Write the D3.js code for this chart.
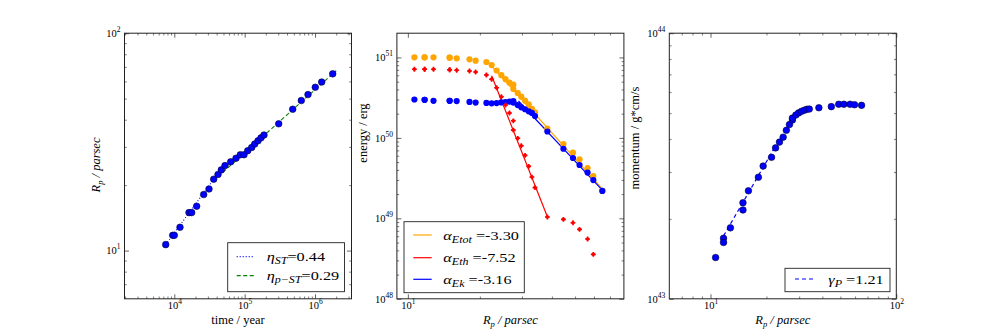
<!DOCTYPE html>
<html>
<head>
<meta charset="utf-8">
<title>Shell evolution</title>
<script src="https://cdn.jsdelivr.net/npm/d3@7"></script>
<style>
    body { margin: 0; background: #fff; }
    svg text { font-family: "Liberation Serif", "DejaVu Serif", serif; fill: #000; }
</style>
</head>
<body>
<svg id="fig" width="996" height="332"></svg>

<script>
// shell radius R_p in parsec, one value per snapshot (shared by all panels)
var rp = [10.65, 11.75, 11.75, 12.8, 14.95, 14.95, 16.0, 18.1, 19.2, 21.3,
          22.4, 23.5, 24.6, 25.6, 26.6, 27.6, 27.6, 28.8, 29.8, 30.9,
          32.0, 33.0, 34.0, 38.3, 44.7, 49.0, 52.2, 56.4, 59.6, 65.0];

// panel 1: time in years
var time = [7550, 9490, 10000, 12050, 16170, 17660, 20800, 26150, 31130, 36300,
            41800, 46560, 52560, 63370, 75370, 86760, 97900, 110500, 125900, 138900,
            154800, 170700, 188300, 304800, 482000, 638600, 794700, 1009000, 1244000, 1785000];

// panel 2: energies in units of 1e51 erg
var eTot = [1.003, 1.003, 1.003, 1.003, 0.992, 0.992, 0.975, 0.947, 0.910, 0.877,
            0.803, 0.688, 0.601, 0.536, 0.485, 0.458, 0.405, 0.361, 0.325, 0.290,
            0.261, 0.230, 0.208, 0.130, 0.0839, 0.0654, 0.0542, 0.0422, 0.0336, 0.0219];
var eTh  = [0.712, 0.712, 0.712, 0.712, 0.703, 0.703, 0.692, 0.678, 0.659, 0.605,
            0.535, 0.420, 0.325, 0.256, 0.204, 0.163, 0.125, 0.0988, 0.0799, 0.0607,
            0.0443, 0.0326, 0.0241, 0.0104, 0.00972, 0.00882, 0.00730, 0.00553, 0.00357, null];
var eKin = [0.300, 0.297, 0.297, 0.289, 0.289, 0.289, 0.287, 0.280, 0.275, 0.272,
            0.269, 0.271, 0.276, 0.279, 0.283, 0.286, 0.275, 0.256, 0.240, 0.227,
            0.214, 0.204, 0.187, 0.120, 0.0733, 0.0562, 0.0460, 0.0371, 0.0299, 0.0219];

// panel 3: radial momentum in units of 1e43 g cm/s
var mom = [1.43, 1.69, 1.63, 1.85, 2.30, 2.16, 2.55, 2.87, 3.16, 3.41,
           3.70, 3.89, 4.06, 4.31, 4.53, 4.71, 4.79, 4.92, 5.01, 5.08,
           5.13, 5.17, 5.18, 5.24, 5.29, 5.40, 5.40, 5.40, 5.38, 5.35];

// power law fits: y = y0 * (x / x0)^slope, drawn between from and to
var fitsTime = [
    {sym: "η", sub: "ST",   txt: "=0.44", slope: 0.44, x0: 7550,    y0: 10.65, from: 7550,  to: 45000},
    {sym: "η", sub: "p−ST", txt: "=0.29", slope: 0.29, x0: 1785000, y0: 65.0,  from: 42000, to: 2000000}
];
var fitsEnergy = [
    {sym: "α", sub: "Etot", txt: " =-3.30", slope: -3.30, x0: 65.3, y0: 0.02294, from: 22.0, to: 65.3},
    {sym: "α", sub: "Eth",  txt: " =-7.52", slope: -7.52, x0: 38.3, y0: 0.01047, from: 22.4, to: 38.3},
    {sym: "α", sub: "Ek",   txt: " =-3.16", slope: -3.16, x0: 47.6, y0: 0.060,   from: 29.0, to: 65.0}
];
var fitsMom = [
    {sym: "γ", sub: "P", txt: " =1.21", slope: 1.21, x0: 11.97, y0: 1.764, from: 11.75, to: 22.2}
];

var plotTop = 33.2, plotBot = 298.8, pw = 227;
var lefts = [124.5, 396.9, 669.3];
var ink = "#222";

var svg = d3.select("#fig");

function majors(dom) {
    var out = [];
    for (var e = Math.ceil(Math.log10(dom[0]) - 1e-9); e <= Math.floor(Math.log10(dom[1]) + 1e-9); e++) out.push(Math.pow(10, e));
    return out;
}
function minors(dom) {
    var out = [];
    for (var e = Math.floor(Math.log10(dom[0])); e <= Math.floor(Math.log10(dom[1])); e++) {
        for (var k = 2; k <= 9; k++) {
            var v = k * Math.pow(10, e);
            if (v > dom[0] * 1.001 && v < dom[1] * 0.999) out.push(v);
        }
    }
    return out;
}

// exponent labels like 10^4
function powLabel(sel, scale) {
    sel.each(function(d) {
        var t = d3.select(this).text("");
        t.append("tspan").text("10");
        t.append("tspan").attr("dy", -5).attr("font-size", 7.5).text(Math.round(Math.log10(d * scale)));
    });
}

function frame(g, x, y, yScaleMult) {
    var xd = x.domain(), yd = y.domain();
    var sides = [
        {ax: d3.axisBottom(x), t: "translate(0," + plotBot + ")", maj: majors(xd), min: minors(xd), lab: true},
        {ax: d3.axisTop(x), t: "translate(0," + plotTop + ")", maj: majors(xd), min: minors(xd), lab: false},
        {ax: d3.axisLeft(y), t: "translate(" + x.range()[0] + ",0)", maj: majors(yd), min: minors(yd), lab: true},
        {ax: d3.axisRight(y), t: "translate(" + x.range()[1] + ",0)", maj: majors(yd), min: minors(yd), lab: false}
    ];
    sides.forEach(function(s, i) {
        g.append("g").attr("transform", s.t)
            .call(s.ax.tickValues(s.min).tickSize(-2.3).tickFormat(""))
            .call(function(a) { a.select(".domain").remove(); a.selectAll("line").attr("stroke", ink).attr("stroke-width", 0.6); });
        var m = g.append("g").attr("transform", s.t)
            .call(s.ax.tickValues(s.maj).tickSize(-4.5).tickPadding(i < 2 ? 2.5 : 4).tickFormat(s.lab ? function(d) { return d; } : ""))
            .call(function(a) { a.select(".domain").remove(); a.selectAll("line").attr("stroke", ink).attr("stroke-width", 0.7); });
        m.attr("font-family", null).attr("font-size", 10.5);
        if (s.lab) powLabel(m.selectAll(".tick text"), i === 2 ? yScaleMult : 1);
    });
    g.append("rect")
        .attr("x", x.range()[0]).attr("y", plotTop)
        .attr("width", pw).attr("height", plotBot - plotTop)
        .attr("fill", "none").attr("stroke", ink).attr("stroke-width", 1);
}

function powerFit(f) {
    return [f.from, f.to].map(function(v) { return [v, f.y0 * Math.pow(v / f.x0, f.slope)]; });
}

function mathText(t, f, size) {
    t.append("tspan").attr("font-style", "italic").text(f.sym);
    t.append("tspan").attr("font-style", "italic").attr("font-size", size * 0.74).attr("dy", 3).text(f.sub);
    t.append("tspan").attr("dy", -3).text(f.txt);
}

// the legend text of the original is set in a wide face, so it is stretched sideways
function legend(g, box, items, size, stretch) {
    g.append("rect").attr("x", box[0]).attr("y", box[1]).attr("width", box[2]).attr("height", box[3])
        .attr("fill", "#fff").attr("stroke", ink).attr("stroke-width", 0.9);
    items.forEach(function(it) {
        g.append("line").attr("x1", it.lx[0]).attr("x2", it.lx[1]).attr("y1", it.y).attr("y2", it.y)
            .attr("stroke", it.color).attr("stroke-width", 1.2).attr("stroke-dasharray", it.dash || null);
        var t = g.append("text")
            .attr("transform", "translate(" + it.tx + "," + (it.y + 4.5) + ") scale(" + stretch + ",1)")
            .attr("font-size", size);
        mathText(t, it.fit, size);
    });
}

function xLabel(g, cx, parts) {
    var t = g.append("text").attr("x", cx).attr("y", 324).attr("text-anchor", "middle").attr("font-size", 12.5);
    parts(t);
}
function yLabel(g, cx, cy, parts) {
    var t = g.append("text").attr("transform", "translate(" + cx + "," + cy + ") rotate(-90)")
        .attr("text-anchor", "middle").attr("font-size", 12.5);
    parts(t);
}
function rpLabel(t) {
    t.append("tspan").attr("font-style", "italic").text("R");
    t.append("tspan").attr("font-style", "italic").attr("font-size", 8.5).attr("dy", 2.5).text("p");
    t.append("tspan").attr("dy", -2.5).attr("font-style", "italic").text(" / parsec");
}

// ---------- panel 1: radius vs time ----------
var g1 = svg.append("g");
var x1 = d3.scaleLog().domain([1960, 3.3e6]).range([lefts[0], lefts[0] + pw]);
var y1 = d3.scaleLog().domain([6, 100]).range([plotBot, plotTop]);
frame(g1, x1, y1, 1);

var line1 = d3.line().x(function(d) { return x1(d[0]); }).y(function(d) { return y1(d[1]); });
var fitStyle1 = [{color: "blue", dash: "1,2"}, {color: "green", dash: "4,2.5"}];
fitsTime.forEach(function(f, i) {
    g1.append("path").datum(powerFit(f)).attr("d", line1).attr("fill", "none")
        .attr("stroke", fitStyle1[i].color).attr("stroke-width", 1.1).attr("stroke-dasharray", fitStyle1[i].dash);
});
g1.selectAll("circle.pt").data(d3.range(time.length)).enter().append("circle")
    .attr("class", "pt")
    .attr("cx", function(i) { return x1(time[i]); })
    .attr("cy", function(i) { return y1(rp[i]); })
    .attr("r", 3.3).attr("fill", "#0000ff").attr("stroke", "#000033").attr("stroke-width", 0.6);

legend(g1, [227.7, 242.7, 116.8, 49], [
    {fit: fitsTime[0], color: "blue", dash: "1,2", y: 256.7, lx: [236.7, 254], tx: 266.7},
    {fit: fitsTime[1], color: "green", dash: "4,2.5", y: 275.7, lx: [236.7, 254], tx: 266.7}
], 13, 1.25);

xLabel(g1, lefts[0] + pw / 2, function(t) { t.text("time / year"); });
yLabel(g1, 100, 165, rpLabel);

// ---------- panel 2: energies vs radius ----------
var g2 = svg.append("g");
var x2 = d3.scaleLog().domain([9, 80]).range([lefts[1], lefts[1] + pw]);
var y2 = d3.scaleLog().domain([1e-3, 2]).range([plotBot, plotTop]); // units of 1e51 erg
frame(g2, x2, y2, 1e51);

var line2 = d3.line().x(function(d) { return x2(d[0]); }).y(function(d) { return y2(d[1]); });
var eColors = ["orange", "red", "blue"];
fitsEnergy.forEach(function(f, i) {
    g2.append("path").datum(powerFit(f)).attr("d", line2).attr("fill", "none")
        .attr("stroke", eColors[i]).attr("stroke-width", 1.2);
});
var idx = d3.range(rp.length);
g2.selectAll("circle.tot").data(idx).enter().append("circle")
    .attr("cx", function(i) { return x2(rp[i]); })
    .attr("cy", function(i) { return y2(eTot[i]); })
    .attr("r", 3.1).attr("fill", "orange");
g2.selectAll("circle.kin").data(idx).enter().append("circle")
    .attr("cx", function(i) { return x2(rp[i]); })
    .attr("cy", function(i) { return y2(eKin[i]); })
    .attr("r", 3.1).attr("fill", "blue");
var thIdx = idx.filter(function(i) { return eTh[i] != null; });
var plus = d3.symbol().type(d3.symbolCross).size(13);
g2.selectAll("path.th").data(thIdx).enter().append("path")
    .attr("d", plus)
    .attr("transform", function(i) { return "translate(" + x2(rp[i]) + "," + y2(eTh[i]) + ")"; })
    .attr("fill", "red");
g2.selectAll("circle.th").data(thIdx).enter().append("circle")
    .attr("cx", function(i) { return x2(rp[i]); })
    .attr("cy", function(i) { return y2(eTh[i]); })
    .attr("r", 1.8).attr("fill", "red");

legend(g2, [404, 221.7, 120.3, 71], [
    {fit: fitsEnergy[0], color: "orange", y: 235, lx: [413.3, 431.7], tx: 443.3},
    {fit: fitsEnergy[1], color: "red", y: 257.7, lx: [413.3, 431.7], tx: 443.3},
    {fit: fitsEnergy[2], color: "blue", y: 279.3, lx: [413.3, 431.7], tx: 443.3}
], 13, 1.25);

xLabel(g2, lefts[1] + pw / 2, rpLabel);
yLabel(g2, 367, 133, function(t) { t.text("energy / erg"); });

// ---------- panel 3: momentum vs radius ----------
var g3 = svg.append("g");
var x3 = d3.scaleLog().domain([6, 100]).range([lefts[2], lefts[2] + pw]);
var y3 = d3.scaleLog().domain([1, 10]).range([plotBot, plotTop]); // units of 1e43 g cm/s
frame(g3, x3, y3, 1e43);

var line3 = d3.line().x(function(d) { return x3(d[0]); }).y(function(d) { return y3(d[1]); });
fitsMom.forEach(function(f) {
    g3.append("path").datum(powerFit(f)).attr("d", line3).attr("fill", "none")
        .attr("stroke", "blue").attr("stroke-width", 1.2).attr("stroke-dasharray", "4,3");
});
g3.selectAll("circle.pt").data(idx).enter().append("circle")
    .attr("cx", function(i) { return x3(rp[i]); })
    .attr("cy", function(i) { return y3(mom[i]); })
    .attr("r", 3.3).attr("fill", "#0000ff").attr("stroke", "#000033").attr("stroke-width", 0.6);

legend(g3, [785, 268.3, 105, 23.4], [
    {fit: fitsMom[0], color: "blue", dash: "4,3", y: 279, lx: [795, 813.3], tx: 828.3}
], 13, 1.25);

xLabel(g3, lefts[2] + pw / 2, rpLabel);
yLabel(g3, 639, 138, function(t) { t.text("momentum / g*cm/s"); });
</script>
</body>
</html>
